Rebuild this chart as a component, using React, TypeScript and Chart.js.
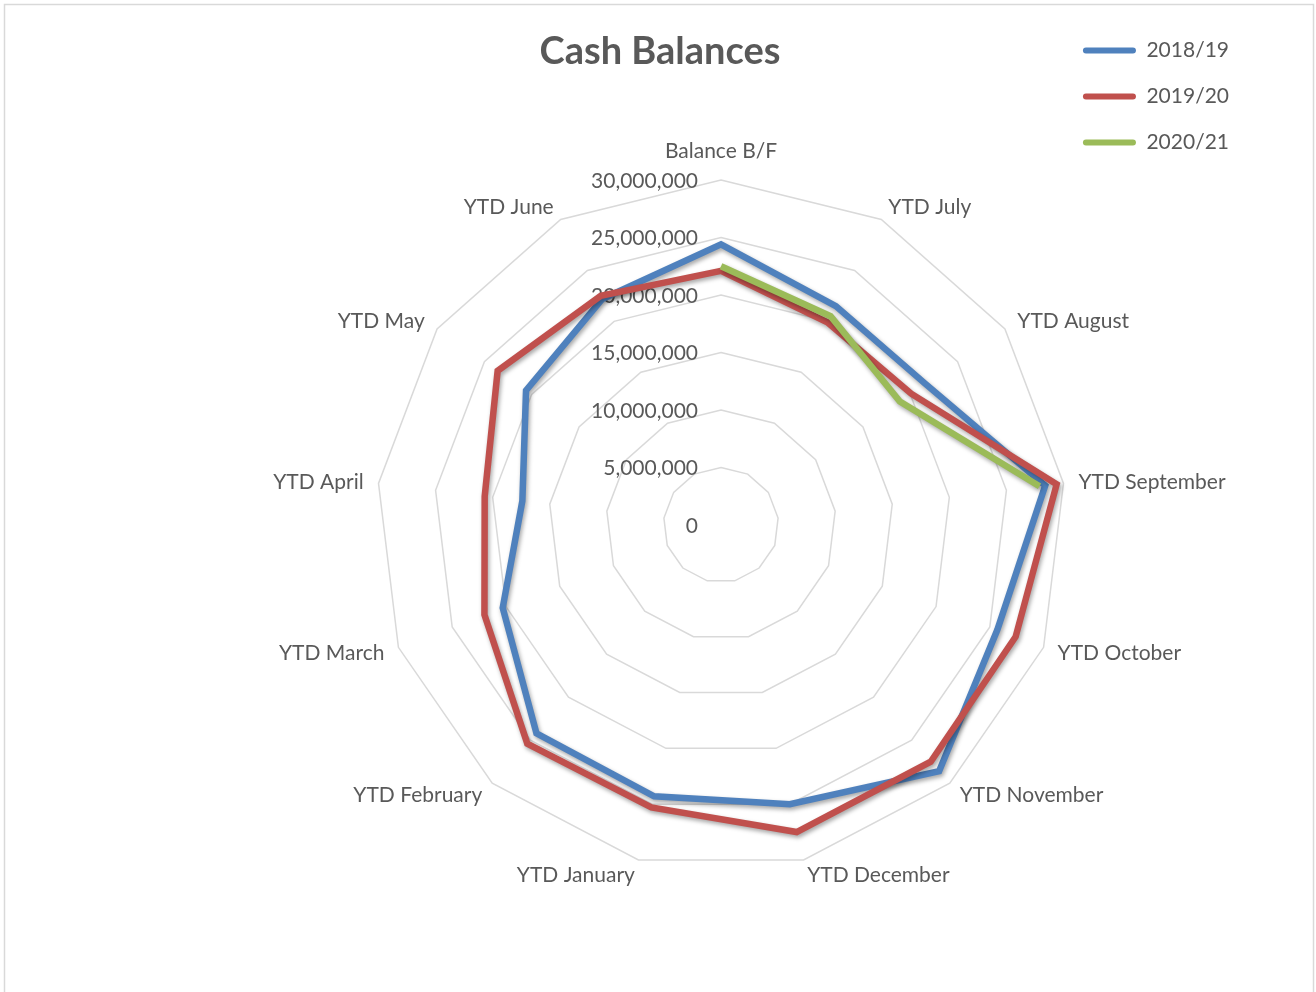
import { useEffect, useRef } from 'react';
import { Chart, registerables } from 'chart.js';

Chart.register(...registerables);

// ---------- data ----------
const categories = [
  'Balance B/F',
  'YTD July',
  'YTD August',
  'YTD September',
  'YTD October',
  'YTD November',
  'YTD December',
  'YTD January',
  'YTD February',
  'YTD March',
  'YTD April',
  'YTD May',
  'YTD June',
];

const seriesNames = ['2018/19', '2019/20', '2020/21'];

const values2018 = [
  24400000, 21500000, 21600000, 28400000, 25700000, 28600000, 25000000,
  24300000, 24200000, 20300000, 17400000, 20600000, 22200000,
];
const values2019 = [
  22100000, 19900000, 20100000, 29400000, 27400000, 27500000, 27500000,
  25300000, 25400000, 22000000, 20700000, 23600000, 22500000,
];
const values2020 = [
  22500000, 20500000, 18900000, 27900000, null, null, null, null, null, null,
  null, null, null,
];

const axisMin = 0;
const axisMax = 30000000;
const axisStep = 5000000;

// ---------- style ----------
const FONT = 'Lato, "Open Sans", sans-serif';
const TEXT = '#595959';
const colors = ['#4F81BD', '#C0504D', '#9BBB59'];
const plotCenter = { x: 721, y: 525 };
const plotRadius = 345;

const fmt = (v: number) => v.toLocaleString('en-US');

const decorPlugin = {
  id: 'decor',
  beforeDraw(chart: any) {
    const ctx = chart.ctx;
    ctx.save();
    ctx.fillStyle = '#ffffff';
    ctx.fillRect(0, 0, chart.width, chart.height);
    ctx.strokeStyle = '#d9d9d9';
    ctx.lineWidth = 1.5;
    ctx.strokeRect(4.5, 4.5, chart.width - 7, chart.height + 20);
    ctx.restore();
  },
  beforeDatasetsDraw(chart: any) {
    const scale = chart.scales.r;
    const ctx = chart.ctx;
    ctx.save();
    ctx.font = `21px ${FONT}`;
    ctx.fillStyle = TEXT;
    ctx.textAlign = 'right';
    ctx.textBaseline = 'middle';
    scale.ticks.forEach((t: any) => {
      const d = scale.getDistanceFromCenterForValue(t.value);
      ctx.fillText(fmt(t.value), scale.xCenter - 23, scale.yCenter - d + 1);
    });
    categories.forEach((label, i) => {
      const p = scale.getPointPosition(i, scale.drawingArea + 15);
      const dx = p.x - scale.xCenter;
      let align: CanvasTextAlign = 'center';
      if (dx > 5) align = 'left';
      else if (dx < -5) align = 'right';
      let y = p.y + 1;
      if (Math.abs(dx) <= 5 && p.y < scale.yCenter) y = p.y - 14;
      ctx.textAlign = align;
      ctx.fillText(label, p.x, y);
    });
    ctx.restore();
  },
  beforeDatasetDraw(chart: any) {
    const ctx = chart.ctx;
    ctx.save();
    ctx.shadowColor = 'rgba(0,0,0,0.35)';
    ctx.shadowBlur = 4;
    ctx.shadowOffsetX = 1.5;
    ctx.shadowOffsetY = 2.5;
  },
  afterDatasetDraw(chart: any) {
    chart.ctx.restore();
  },
};

export default function App() {
  const ref = useRef<HTMLCanvasElement | null>(null);

  useEffect(() => {
    if (!ref.current) return;
    const allValues = [values2018, values2019, values2020];
    const chart = new Chart(ref.current, {
      type: 'radar',
      data: {
        labels: categories,
        datasets: seriesNames.map((name, i) => ({
          label: name,
          data: allValues[i],
          borderColor: colors[i],
          backgroundColor: colors[i],
          borderWidth: 6.5,
          fill: false,
          pointRadius: 0,
          pointHoverRadius: 0,
          spanGaps: false,
          clip: false,
          order: 3 - i,
        })),
      },
      options: {
        responsive: false,
        animation: false,
        layout: { padding: { top: 15, left: 81, right: 77, bottom: 10 } },
        elements: { line: { tension: 0, borderJoinStyle: 'miter' } },
        plugins: {
          title: {
            display: true,
            text: 'Cash Balances',
            color: TEXT,
            font: { family: FONT, size: 38, weight: 'bold' },
            padding: { top: 14, bottom: 0 },
          },
          legend: {
            display: true,
            position: 'right',
            align: 'start',
            labels: {
              color: TEXT,
              font: { family: FONT, size: 21 },
              boxWidth: 53,
              boxHeight: 6,
              padding: 25,
              sort: (a: any, b: any) => a.datasetIndex - b.datasetIndex,
              generateLabels: (c: any) =>
                Chart.defaults.plugins.legend.labels
                  .generateLabels(c)
                  .map((l: any) => ({
                    ...l,
                    lineWidth: 0,
                    fillStyle: l.strokeStyle,
                    borderRadius: 3,
                  })),
            },
          },
          tooltip: { enabled: false },
        },
        scales: {
          r: {
            min: axisMin,
            max: axisMax,
            beginAtZero: true,
            ticks: { display: false, stepSize: axisStep },
            pointLabels: { display: false },
            angleLines: { display: false },
            grid: { circular: false, color: '#d9d9d9', lineWidth: 1.5 },
            afterFit: (scale: any) => {
              scale.xCenter = plotCenter.x;
              scale.yCenter = plotCenter.y;
              scale.drawingArea = plotRadius;
            },
          },
        },
      },
      plugins: [decorPlugin],
    });
    return () => chart.destroy();
  }, []);

  return (
    <div style={{ position: 'absolute', left: 0, top: 0, width: 1316, height: 992 }}>
      <canvas ref={ref} width={1316} height={992} />
    </div>
  );
}
